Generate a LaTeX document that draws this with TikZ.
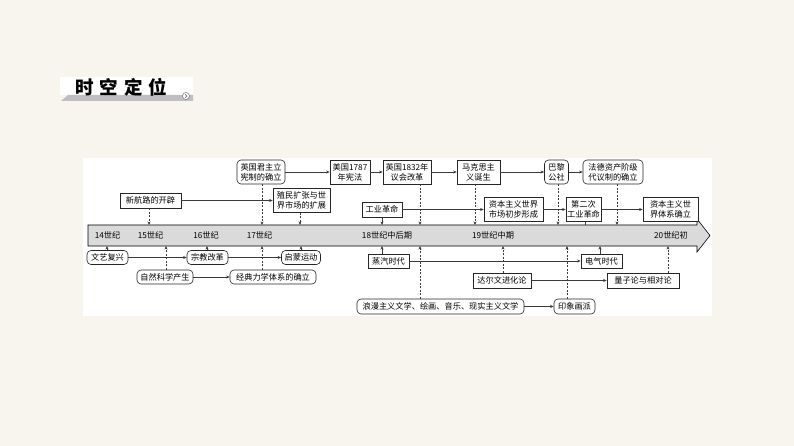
\documentclass[tikz,border=0pt]{standalone}
\usepackage{fontspec}
\setmainfont{Noto Sans CJK SC}
\usetikzlibrary{arrows.meta}
\definecolor{bgc}{HTML}{F8F5EE}
\definecolor{barc}{HTML}{DADADA}
\definecolor{linec}{HTML}{3A3A3A}
\begin{document}
\begin{tikzpicture}[x=1pt,y=-1pt,
  box/.style={draw=black!85, line width=0.6pt, fill=white, inner sep=0pt, align=center,
    font=\fontsize{8.2}{9.8}\selectfont},
  rbox/.style={box, rounded corners=4pt},
  conn/.style={draw=linec, line width=0.7pt, -{Stealth[length=3.6pt,width=3pt]}},
  dconn/.style={conn, dash pattern=on 2pt off 1.5pt},
  barlab/.style={font=\fontsize{8.2}{9}\selectfont, inner sep=0pt}]
\useasboundingbox (0,0) rectangle (794,446);
\fill[bgc] (0,0) rectangle (794,446);
% title
\fill[white] (60,77) rectangle (193,95);
\fill[black!25] (68,95) -- (193,95) -- (193,101) -- (61,101) -- cycle;
\node[font=\fontsize{18.5}{18.5}\selectfont\bfseries, inner sep=0pt] (title) at (121.5,87) {时\hspace{6pt}空\hspace{6pt}定\hspace{6pt}位};
\node[circle, draw=black!55, fill=white, line width=0.5pt, minimum size=7pt, inner sep=0pt] (more) at (186,96) {};
\draw[black!60, line width=0.6pt] ([xshift=-0.8pt,yshift=-1.6pt]more.center) -- ([xshift=1pt]more.center) -- ([xshift=-0.8pt,yshift=1.6pt]more.center);
% panel
\fill[white] (83,158) rectangle (712,316);
% timeline bar
\draw[fill=barc, line width=0.6pt] (88,225) -- (697,225) -- (697,219) -- (710,235.5) -- (697,252) -- (697,246) -- (88,246) -- cycle;
\node[barlab] (l14) at (107.5,235.5) {14世纪};
\node[barlab] (l15) at (150.5,235.5) {15世纪};
\node[barlab] (l16) at (206,235.5) {16世纪};
\node[barlab] (l17) at (259.5,235.5) {17世纪};
\node[barlab] (l18) at (387,235.5) {18世纪中后期};
\node[barlab] (l19) at (493,235.5) {19世纪中期};
\node[barlab] (l20) at (671,235.5) {20世纪初};
% tick coordinates on top edge
\foreach \x in {149,262,300,382,420,475,558,585,617}{\coordinate (t\x) at (\x,225);}
% tick coordinates on bottom edge
\foreach \x in {107,166,207,262,301,382,420,503,567,600,668}{\coordinate (b\x) at (\x,246);}
% top row
\node[rbox, minimum width=48, minimum height=24] (A1) at (261,172) {英国君主立\\宪制的确立};
\node[box, minimum width=40, minimum height=24] (A2) at (350,172) {美国1787\\年宪法};
\node[box, minimum width=48, minimum height=24] (A3) at (407,172) {英国1832年\\议会改革};
\node[box, minimum width=43, minimum height=24] (A4) at (478.5,172) {马克思主\\义诞生};
\node[rbox, minimum width=24, minimum height=24] (A5) at (556.5,172) {巴黎\\公社};
\node[rbox, minimum width=60, minimum height=24] (A6) at (613,172) {法德资产阶级\\代议制的确立};
\draw[conn] (A1.east) -- (A2.west);
\draw[conn] (A2.east) -- (A3.west);
\draw[conn] (A3.east) -- (A4.west);
\draw[conn] (A4.east) -- (A5.west);
\draw[conn] (A5.east) -- (A6.west);
% second row
\node[box, minimum width=61, minimum height=15] (B1) at (150.5,200.5) {新航路的开辟};
\node[box, minimum width=57, minimum height=24] (B2) at (301.5,200.5) {殖民扩张与世\\界市场的扩展};
\node[box, minimum width=40, minimum height=15] (B3) at (382,209.5) {工业革命};
\node[box, minimum width=59, minimum height=24] (B4) at (513.5,209.5) {资本主义世界\\市场初步形成};
\node[box, minimum width=35, minimum height=24] (B5) at (583.5,209.5) {第二次\\工业革命};
\node[box, minimum width=55, minimum height=24] (B6) at (670.5,209.5) {资本主义世\\界体系确立};
\draw[conn] (B1.east) -- (B2.west);
\draw[conn] (B3.east) -- (B4.west);
\draw[conn] (B4.east) -- (B5.west);
\draw[conn] (B5.east) -- (B6.west);
% down arrows to bar
\draw[dconn] (B1.south -| t149) -- (t149);
\draw[dconn] (A1.south -| t262) -- (t262);
\draw[dconn] (B2.south -| t300) -- (t300);
\draw[conn] (B3.south -| t382) -- (t382);
\draw[dconn] (A3.south -| t420) -- (t420);
\draw[dconn] (A4.south -| t475) -- (t475);
\draw[dconn] (A5.south -| t558) -- (t558);
\draw[draw=linec, line width=0.7pt] (B5.south -| t585) -- (t585);
\draw[dconn] (A6.south -| t617) -- (t617);
% bottom rows
\node[rbox, minimum width=41, minimum height=14] (C1) at (107.5,257.5) {文艺复兴};
\node[rbox, minimum width=41, minimum height=14] (C2) at (207.5,257.5) {宗教改革};
\node[rbox, minimum width=39, minimum height=14] (C3) at (301,257.5) {启蒙运动};
\node[rbox, minimum width=56, minimum height=14] (D1) at (165,277) {自然科学产生};
\node[rbox, minimum width=86, minimum height=14] (D2) at (273,277) {经典力学体系的确立};
\node[box, minimum width=41, minimum height=14] (E1) at (388.5,261) {蒸汽时代};
\node[box, minimum width=41, minimum height=14] (E2) at (601.5,261) {电气时代};
\node[box, minimum width=58, minimum height=15] (F1) at (502,280.5) {达尔文进化论};
\node[box, minimum width=72, minimum height=15] (F2) at (643,280.5) {量子论与相对论};
\node[rbox, minimum width=167, minimum height=15] (G1) at (440.5,306.5) {浪漫主义文学、绘画、音乐、现实主义文学};
\node[rbox, minimum width=41, minimum height=15] (G2) at (574.5,306.5) {印象画派};
\draw[conn] (C1.east) -- (C2.west);
\draw[conn] (C2.east) -- (C3.west);
\draw[conn] (D1.east) -- (D2.west);
\draw[conn] (E1.east) -- (E2.west);
\draw[conn] (F1.east) -- (F2.west);
\draw[conn] (G1.east) -- (G2.west);
% up arrows to bar
\draw[conn] (C1.north -| b107) -- (b107);
\draw[conn] (C2.north -| b207) -- (b207);
\draw[conn] (C3.north -| b301) -- (b301);
\draw[dconn] (D1.north -| b166) -- (b166);
\draw[dconn] (D2.north -| b262) -- (b262);
\draw[conn] (E1.north -| b382) -- (b382);
\draw[dconn] (G1.north -| b420) -- (b420);
\draw[dconn] (F1.north -| b503) -- (b503);
\draw[dconn] (G2.north -| b567) -- (b567);
\draw[conn] (E2.north -| b600) -- (b600);
\draw[dconn] (F2.north -| b668) -- (b668);
\end{tikzpicture}
\end{document}
